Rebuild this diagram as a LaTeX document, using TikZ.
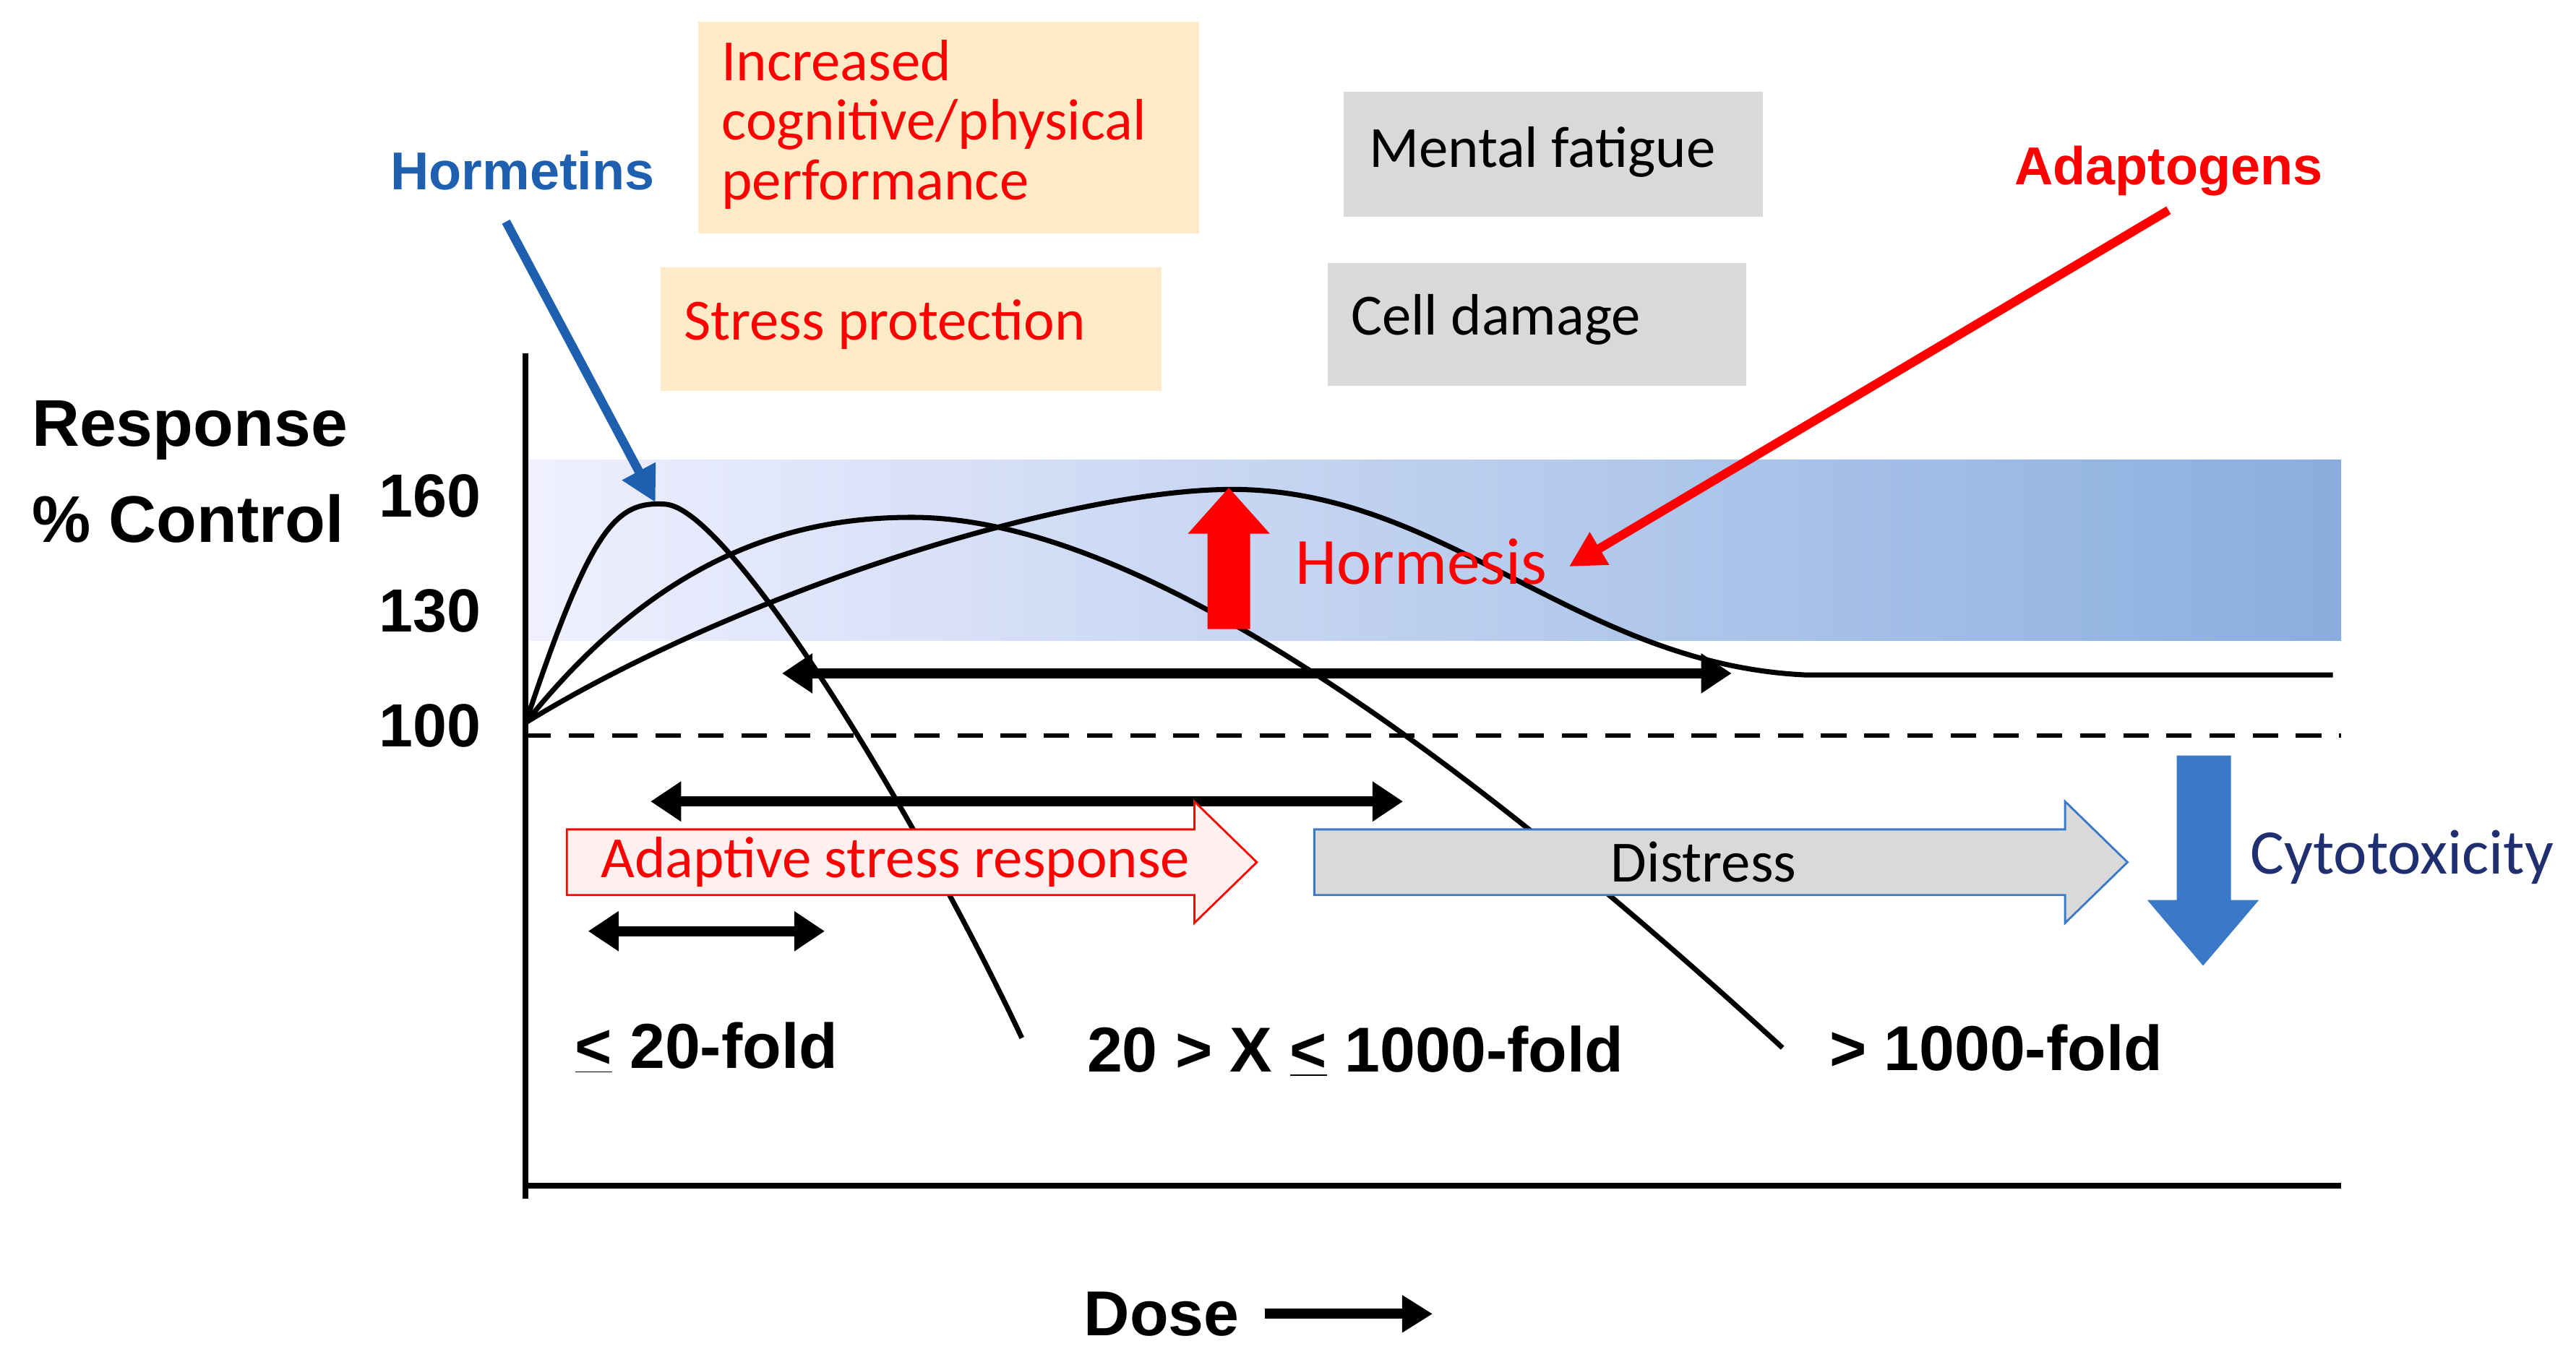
\documentclass[tikz,border=0pt]{standalone}
\usepackage{fontspec}
\setmainfont{Carlito}
\newfontfamily\arialf{Liberation Sans}
\usetikzlibrary{arrows.meta}
\definecolor{tan}{HTML}{FDEBC8}
\definecolor{gbox}{HTML}{D9D9D9}
\definecolor{hblue}{HTML}{1F5FAF}
\definecolor{cblue}{HTML}{3A78C8}
\definecolor{navy}{HTML}{1F2F6F}
\begin{document}
\begin{tikzpicture}[x=0.02273cm,y=-0.02273cm,
  lab/.style={font=\arialf\bfseries\fontsize{25}{29}\selectfont},
  big/.style={font=\arialf\bfseries\fontsize{26}{30}\selectfont},
  tick/.style={font=\arialf\bfseries\fontsize{24}{27}\selectfont},
  box/.style={font=\fontsize{23}{23.5}\selectfont,inner sep=0pt,anchor=north west},
  txt/.style={font=\fontsize{23}{27}\selectfont},
  dbl/.style={line width=4pt,{Triangle[length=12pt,width=15pt]}-{Triangle[length=12pt,width=15pt]}},
  curve/.style={line width=2pt}]
\useasboundingbox (0,0) rectangle (1568,829);
% band
\shade[left color=blue!6,right color=cblue!60] (320,280) rectangle (1425,390);
% boxes
\fill[tan] (425,13) rectangle (730,142);
\node[box,text=red,align=left] (inc) at (439,24) {Increased\\cognitive/physical\\performance};
\fill[tan] (402,163) rectangle (707,238);
\node[box,text=red] (sp) at (416,182) {Stress protection};
\fill[gbox] (818,56) rectangle (1073,132);
\node[box] (mf) at (833,77) {Mental fatigue};
\fill[gbox] (808,160) rectangle (1063,235);
\node[box] (cd) at (822,179) {Cell damage};
% axes
\coordinate (o) at (320,440);
\coordinate (yt) at (320,215);
\coordinate (yb) at (320,730);
\coordinate (xl) at (320,722);
\coordinate (xr) at (1425,722);
\draw[line width=2.2pt] (yt) -- (yb);
\draw[line width=2.2pt] (xl) -- (xr);
\coordinate (dl) at (320,448); \coordinate (dr) at (1425,448);
\draw[line width=1.8pt,dash pattern=on 10pt off 7pt] (dl) -- (dr);
\node[big,anchor=west] (resp) at (14,262) {Response};
\node[big,anchor=west] (pc) at (14,316) {\% Control};
\node[tick,anchor=east] (t160) at (298,302) {160};
\node[tick,anchor=east] (t130) at (298,372) {130};
\node[tick,anchor=east] (t100) at (298,442) {100};
% curves
\draw[curve] (o) .. controls (360,320) and (375,305) .. (405,307) .. controls (445,310) and (560,500) .. (622,632);
\draw[curve] (o) .. controls (400,340) and (480,315) .. (555,315) .. controls (690,315) and (880,450) .. (1085,638);
\draw[curve] (o) .. controls (450,360) and (650,298) .. (750,298) .. controls (880,298) and (960,405) .. (1100,411) -- (1420,411);
% hormesis arrow
\fill[red] (735,383) -- (761,383) -- (761,325) -- (773,325) -- (748,297) -- (723,325) -- (735,325) -- cycle;
\node[font=\fontsize{26}{30}\selectfont,text=red] (hor) at (865,342) {Hormesis};
% double arrows
\coordinate (a1) at (476,410); \coordinate (b1) at (1054,410);
\coordinate (a2) at (396,488); \coordinate (b2) at (854,488);
\coordinate (a3) at (358,567); \coordinate (b3) at (502,567);
\draw[dbl] (a1) -- (b1);
\draw[dbl] (a2) -- (b2);
\draw[dbl] (a3) -- (b3);
% outline arrows
\draw[red,fill=red!6,line width=0.8pt] (345,505) -- (727,505) -- (727,488) -- (765,525) -- (727,562) -- (727,545) -- (345,545) -- cycle;
\node[txt,text=red] (asr) at (545,525) {Adaptive stress response};
\draw[cblue,fill=gbox,line width=0.8pt] (800,505) -- (1257,505) -- (1257,488) -- (1295,525) -- (1257,562) -- (1257,545) -- (800,545) -- cycle;
\node[txt] (dis) at (1037,525) {Distress};
\fill[cblue] (1325,460) -- (1358,460) -- (1358,548) -- (1375,548) -- (1341,588) -- (1307,548) -- (1325,548) -- cycle;
\node[font=\fontsize{25}{29}\selectfont,text=navy] (cyt) at (1462,522) {Cytotoxicity};
% bottom labels
\node[lab] (f1) at (430,638) {\underline{<} 20-fold};
\node[lab] (f2) at (825,640) {20 > X \underline{<} 1000-fold};
\node[lab] (f3) at (1215,638) {> 1000-fold};
\node[lab] (dose) at (707,800) {Dose};
\coordinate (dz) at (872,800);
\draw[line width=4pt,-{Triangle[length=12pt,width=14pt]}] (dose.east) ++(10,0) -- (dz);
% pointers
\node[font=\arialf\bfseries\fontsize{21}{25}\selectfont,text=hblue] (horm) at (318,104) {Hormetins};
\coordinate (hp) at (399,306);
\draw[hblue,line width=3.5pt,-{Triangle[length=14pt,width=14pt]}] (308,135) -- (hp);
\node[font=\arialf\bfseries\fontsize{21}{25}\selectfont,text=red] (adap) at (1320,104) {Adaptogens};
\coordinate (ap) at (955,345);
\draw[red,line width=3.5pt,-{Triangle[length=14pt,width=14pt]}] (1320,128) -- (ap);
\end{tikzpicture}
\end{document}
